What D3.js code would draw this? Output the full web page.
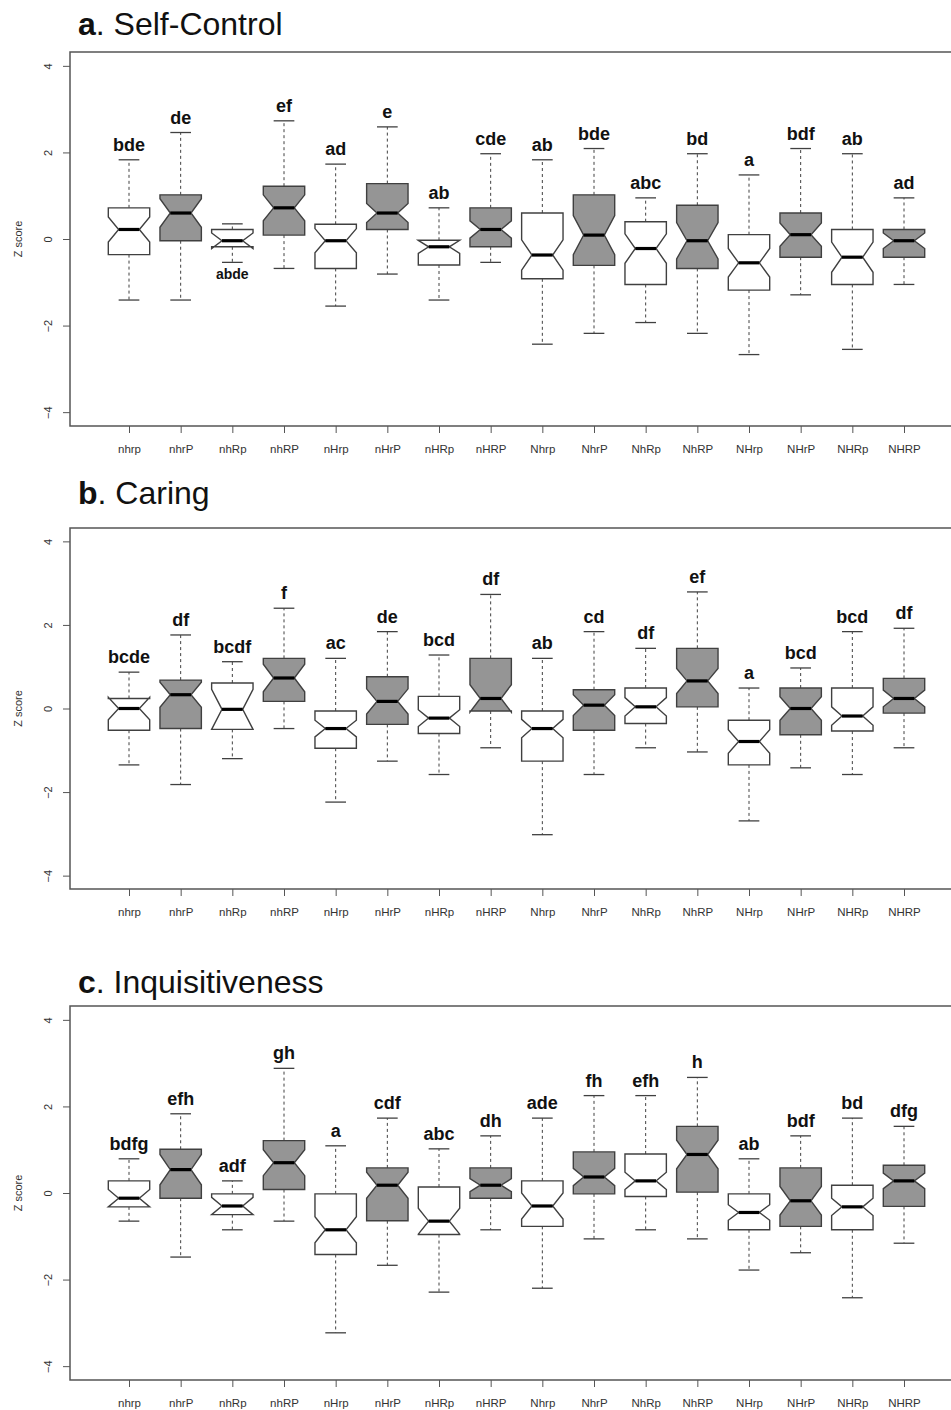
<!DOCTYPE html>
<html>
<head>
<meta charset="utf-8">
<script src="https://cdn.jsdelivr.net/npm/d3@7"></script>
<style>
  body { margin: 0; background: #fff; }
  svg { display: block; font-family: "Liberation Sans", Arial, sans-serif; }
</style>
</head>
<body>
<div id="chart"></div>
<script>
// groups along the x axis
const groups = ["nhrp","nhrP","nhRp","nhRP","nHrp","nHrP","nHRp","nHRP",
                "Nhrp","NhrP","NhRp","NhRP","NHrp","NHrP","NHRp","NHRP"];
const yTicks = [-4, -2, 0, 2, 4];

// a. Self-Control
const scHi    = [1.83, 2.46, 0.35, 2.73, 1.73, 2.59, 0.72, 1.97, 1.83, 2.09, 0.95, 1.97, 1.48, 2.09, 1.97, 0.95];
const scQ3    = [0.72, 1.02, 0.22, 1.22, 0.34, 1.28, -0.03, 0.72, 0.60, 1.02, 0.40, 0.78, 0.10, 0.60, 0.22, 0.22];
const scMed   = [0.22, 0.60, -0.04, 0.72, -0.04, 0.60, -0.18, 0.22, -0.37, 0.09, -0.22, -0.04, -0.55, 0.10, -0.42, -0.04];
const scQ1    = [-0.36, -0.04, -0.18, 0.09, -0.68, 0.22, -0.60, -0.18, -0.92, -0.61, -1.05, -0.68, -1.18, -0.42, -1.05, -0.42];
const scLo    = [-1.41, -1.41, -0.54, -0.68, -1.55, -0.81, -1.41, -0.54, -2.43, -2.18, -1.93, -2.18, -2.67, -1.29, -2.55, -1.05];
const scNotch = [0.29, 0.33, 0.18, 0.30, 0.28, 0.22, 0.15, 0.20, 0.35, 0.45, 0.34, 0.42, 0.33, 0.27, 0.35, 0.18];
const scLetters = ["bde","de","abde","ef","ad","e","ab","cde","ab","bde","abc","bd","a","bdf","ab","ad"];

// b. Caring
const caHi    = [0.87, 1.76, 1.12, 2.40, 1.20, 1.84, 1.28, 2.73, 1.20, 1.84, 1.44, 2.79, 0.49, 0.97, 1.84, 1.92];
const caQ3    = [0.24, 0.68, 0.61, 1.20, -0.06, 0.76, 0.29, 1.20, -0.06, 0.45, 0.49, 1.44, -0.28, 0.49, 0.49, 0.72];
const caMed   = [0.00, 0.33, -0.02, 0.73, -0.48, 0.17, -0.23, 0.24, -0.48, 0.08, 0.04, 0.66, -0.79, 0.00, -0.18, 0.24];
const caQ1    = [-0.52, -0.48, -0.50, 0.17, -0.95, -0.38, -0.60, -0.06, -1.26, -0.52, -0.36, 0.04, -1.35, -0.63, -0.54, -0.11];
const caLo    = [-1.35, -1.82, -1.20, -0.48, -2.24, -1.26, -1.58, -0.94, -3.02, -1.58, -0.94, -1.04, -2.69, -1.42, -1.58, -0.94];
const caNotch = [0.27, 0.30, 0.48, 0.33, 0.20, 0.30, 0.20, 0.33, 0.22, 0.25, 0.22, 0.30, 0.28, 0.28, 0.22, 0.20];
const caLetters = ["bcde","df","bcdf","f","ac","de","bcd","df","ab","cd","df","ef","a","bcd","bcd","df"];

// c. Inquisitiveness
const inHi    = [0.79, 1.83, 0.28, 2.88, 1.09, 1.73, 1.02, 1.32, 1.73, 2.25, 2.25, 2.67, 0.79, 1.32, 1.73, 1.54];
const inQ3    = [0.28, 1.01, -0.02, 1.21, -0.02, 0.58, 0.14, 0.58, 0.28, 0.95, 0.90, 1.54, -0.02, 0.58, 0.18, 0.64];
const inMed   = [-0.12, 0.54, -0.30, 0.70, -0.85, 0.18, -0.65, 0.18, -0.30, 0.37, 0.28, 0.89, -0.45, -0.18, -0.32, 0.28];
const inQ1    = [-0.32, -0.12, -0.50, 0.08, -1.42, -0.64, -0.96, -0.12, -0.77, -0.02, -0.08, 0.02, -0.85, -0.77, -0.85, -0.31];
const inLo    = [-0.65, -1.48, -0.85, -0.65, -3.23, -1.67, -2.29, -0.85, -2.20, -1.06, -0.85, -1.06, -1.78, -1.38, -2.42, -1.16];
const inNotch = [0.20, 0.35, 0.20, 0.30, 0.30, 0.30, 0.30, 0.15, 0.30, 0.20, 0.20, 0.33, 0.18, 0.33, 0.20, 0.18];
const inLetters = ["bdfg","efh","adf","gh","a","cdf","abc","dh","ade","fh","efh","h","ab","bdf","bd","dfg"];

function rows(hi, q3, med, q1, lo, notch, letters) {
    return groups.map((g, i) => ({
        group: g, hi: hi[i], q3: q3[i], med: med[i], q1: q1[i], lo: lo[i],
        notch: notch[i], letter: letters[i], filled: g.endsWith("P")
    }));
}

const panels = [
    { tag: "a", name: ". Self-Control", top: 52, bottom: 426, titleY: 35,
      data: rows(scHi, scQ3, scMed, scQ1, scLo, scNotch, scLetters) },
    { tag: "b", name: ". Caring", top: 528, bottom: 889, titleY: 504,
      data: rows(caHi, caQ3, caMed, caQ1, caLo, caNotch, caLetters) },
    { tag: "c", name: ". Inquisitiveness", top: 1006, bottom: 1380, titleY: 993,
      data: rows(inHi, inQ3, inMed, inQ1, inLo, inNotch, inLetters) }
];

const width = 951, height = 1410;
const left = 70;
const boxHalf = 20.7;
const stroke = "#404040";

const svg = d3.select("#chart")
    .append("svg")
    .attr("width", width)
    .attr("height", height);

const x = d3.scalePoint()
    .domain(groups)
    .range([129, 904]);

panels.forEach(p => {
    const y = d3.scaleLinear()
        .domain([-4.32, 4.32])
        .range([p.bottom, p.top]);

    const g = svg.append("g");

    // Title
    const title = g.append("text")
        .attr("x", 78)
        .attr("y", p.titleY)
        .style("font-size", "32px")
        .attr("fill", "#111");
    title.append("tspan").style("font-weight", "bold").text(p.tag);
    title.append("tspan").text(p.name);

    // Frame (right side runs off the page)
    g.append("path")
        .attr("d", `M${width + 5},${p.top}H${left}V${p.bottom}H${width + 5}`)
        .attr("fill", "none")
        .attr("stroke", "#555")
        .attr("stroke-width", 1.5);

    // Y axis, labels turned on their side
    const yAxis = g.append("g")
        .attr("transform", `translate(${left},0)`)
        .call(d3.axisLeft(y).tickValues(yTicks).tickSize(7).tickFormat(d3.format("d")));
    yAxis.select(".domain").remove();
    yAxis.selectAll("line").attr("stroke", "#555");
    yAxis.selectAll("text")
        .attr("x", 0)
        .attr("y", 0)
        .attr("dy", "0.32em")
        .attr("text-anchor", "middle")
        .attr("fill", "#333")
        .style("font-size", "11px")
        .attr("transform", "translate(-22,0) rotate(-90)");

    // X axis
    const xAxis = g.append("g")
        .attr("transform", `translate(0,${p.bottom})`)
        .call(d3.axisBottom(x).tickSize(7).tickPadding(12));
    xAxis.select(".domain").remove();
    xAxis.selectAll("line").attr("stroke", "#555");
    xAxis.selectAll("text")
        .attr("fill", "#333")
        .style("font-size", "11.5px");

    g.append("text")
        .attr("transform", `translate(22,${y(0)}) rotate(-90)`)
        .attr("text-anchor", "middle")
        .attr("fill", "#333")
        .style("font-size", "11px")
        .text("Z score");

    const box = g.append("g")
        .selectAll("g")
        .data(p.data)
        .enter()
        .append("g");

    // Whiskers
    box.append("line")
        .attr("x1", d => x(d.group)).attr("x2", d => x(d.group))
        .attr("y1", d => y(d.q3)).attr("y2", d => y(d.hi))
        .attr("stroke", stroke).attr("stroke-dasharray", "3,3");
    box.append("line")
        .attr("x1", d => x(d.group)).attr("x2", d => x(d.group))
        .attr("y1", d => y(d.q1)).attr("y2", d => y(d.lo))
        .attr("stroke", stroke).attr("stroke-dasharray", "3,3");
    box.append("line")
        .attr("x1", d => x(d.group) - boxHalf / 2).attr("x2", d => x(d.group) + boxHalf / 2)
        .attr("y1", d => y(d.hi)).attr("y2", d => y(d.hi))
        .attr("stroke", stroke).attr("stroke-width", 1.3);
    box.append("line")
        .attr("x1", d => x(d.group) - boxHalf / 2).attr("x2", d => x(d.group) + boxHalf / 2)
        .attr("y1", d => y(d.lo)).attr("y2", d => y(d.lo))
        .attr("stroke", stroke).attr("stroke-width", 1.3);

    // Notched box
    box.append("path")
        .attr("d", d => {
            const c = x(d.group), w = boxHalf, n = w / 2;
            const pts = [
                [c - w, y(d.q3)], [c - w, y(d.med + d.notch)], [c - n, y(d.med)],
                [c - w, y(d.med - d.notch)], [c - w, y(d.q1)], [c + w, y(d.q1)],
                [c + w, y(d.med - d.notch)], [c + n, y(d.med)], [c + w, y(d.med + d.notch)],
                [c + w, y(d.q3)]
            ];
            return "M" + pts.map(q => q.join(",")).join("L") + "Z";
        })
        .attr("fill", d => d.filled ? "#959595" : "#fff")
        .attr("stroke", stroke)
        .attr("stroke-width", 1.4);

    // Median
    box.append("line")
        .attr("x1", d => x(d.group) - boxHalf / 2).attr("x2", d => x(d.group) + boxHalf / 2)
        .attr("y1", d => y(d.med)).attr("y2", d => y(d.med))
        .attr("stroke", "#000").attr("stroke-width", 3.2);

    // Group letters (abde sits under its box)
    box.append("text")
        .attr("x", d => x(d.group))
        .attr("y", d => d.letter === "abde" ? y(d.lo) + 17 : y(d.hi) - 9)
        .attr("text-anchor", "middle")
        .style("font-weight", "bold")
        .style("font-size", d => d.letter === "abde" ? "14px" : "18px")
        .attr("fill", "#111")
        .text(d => d.letter);
});
</script>
</body>
</html>
